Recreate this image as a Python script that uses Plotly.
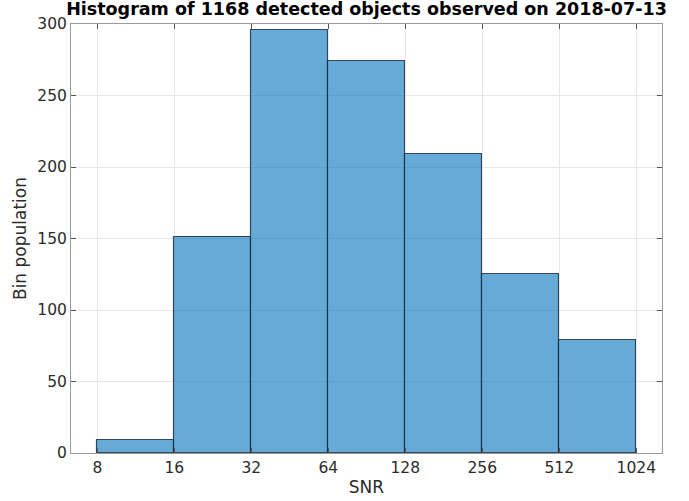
import numpy as np
import plotly.graph_objects as go

# SNR bin edges (powers of two) and object counts per bin
bin_edges = [8, 16, 32, 64, 128, 256, 512, 1024]
bin_counts = [9, 151, 296, 274, 209, 125, 79]
tick_labels = ["8", "16", "32", "64", "128", "256", "512", "1024"]
y_ticks = [0, 50, 100, 150, 200, 250, 300]

log_edges = np.log2(bin_edges)
centers = (log_edges[:-1] + log_edges[1:]) / 2
widths = np.diff(log_edges)

fig = go.Figure()
fig.add_trace(go.Bar(
    x=centers,
    y=bin_counts,
    width=widths,
    marker=dict(color="rgba(0,114,189,0.6)",
                line=dict(color="rgba(30,45,60,0.85)", width=1.1)),
    showlegend=False,
))

axis_common = dict(
    showline=True, linecolor="#9a9a9a", linewidth=1, mirror="ticks",
    ticks="inside", ticklen=5, tickcolor="#555555",
    showgrid=True, gridcolor="#e6e6e6", gridwidth=1,
    zeroline=False, automargin=False,
    tickfont=dict(family="DejaVu Sans", size=15.5, color="#2b2b2b"),
)

fig.update_layout(
    width=689, height=501,
    margin=dict(l=71, r=27, t=24, b=48),
    paper_bgcolor="white", plot_bgcolor="white",
    bargap=0,
    title=dict(text="<b>Histogram of 1168 detected objects observed on 2018-07-13</b>",
               x=0.5, xanchor="center", xref="paper", y=0.995, yanchor="top",
               font=dict(family="DejaVu Sans", size=17.5, color="black")),
    xaxis=dict(
        **axis_common,
        range=[2.658, 10.334],
        tickvals=list(log_edges), ticktext=tick_labels,
        title=dict(text="SNR", standoff=5,
                   font=dict(family="DejaVu Sans", size=17, color="#2b2b2b")),
    ),
    yaxis=dict(
        **axis_common,
        range=[0, 300],
        tickvals=y_ticks,
        title=dict(text="Bin population", standoff=6,
                   font=dict(family="DejaVu Sans", size=17, color="#2b2b2b")),
    ),
)

fig.write_html("out.html")
